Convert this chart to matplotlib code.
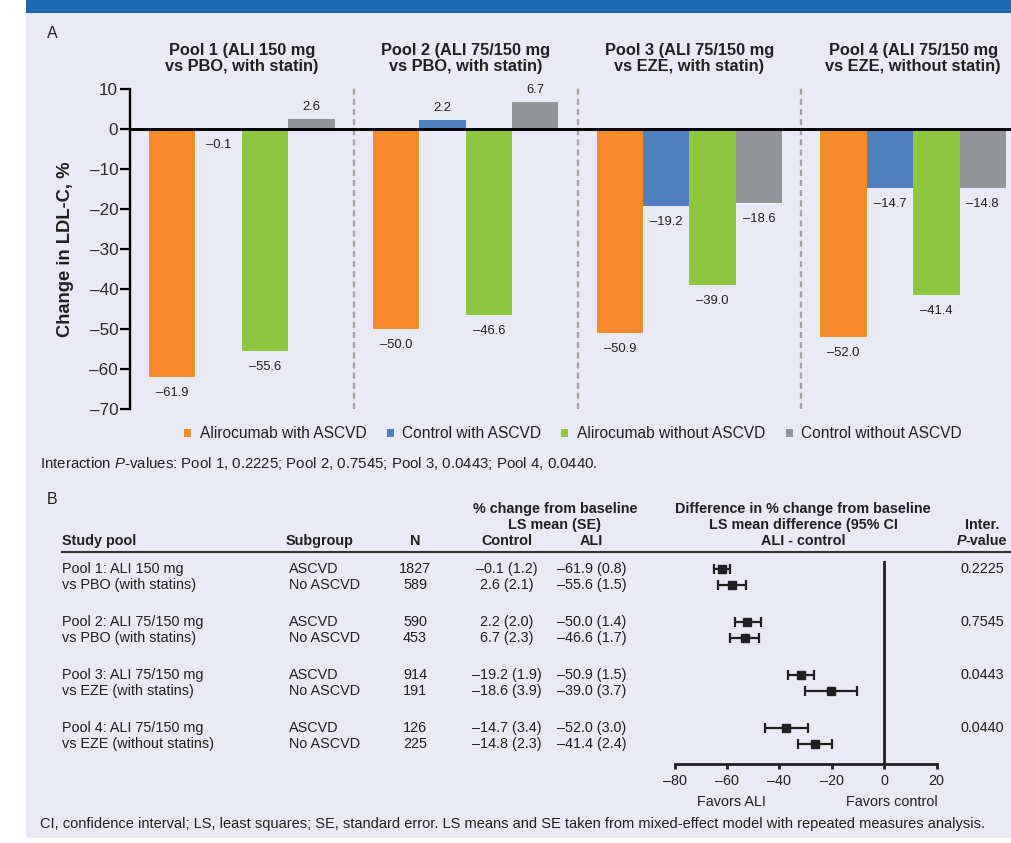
import numpy as np
import matplotlib
matplotlib.use("Agg")
import matplotlib.pyplot as plt
from matplotlib.patches import Rectangle, Patch
from matplotlib.lines import Line2D
from matplotlib.ticker import FuncFormatter

plt.rcParams['font.family'] = ['Liberation Sans', 'DejaVu Sans']
plt.rcParams['mathtext.fontset'] = 'custom'
plt.rcParams['mathtext.rm'] = 'Liberation Sans'
plt.rcParams['mathtext.it'] = 'Liberation Sans:italic'
plt.rcParams['lines.scale_dashes'] = False

# ---- panel A data: LS mean % change in LDL-C ----
pool_titles = ["Pool 1 (ALI 150 mg\nvs PBO, with statin)",
               "Pool 2 (ALI 75/150 mg\nvs PBO, with statin)",
               "Pool 3 (ALI 75/150 mg\nvs EZE, with statin)",
               "Pool 4 (ALI 75/150 mg\nvs EZE, without statin)"]
series_names = ["Alirocumab with ASCVD", "Control with ASCVD",
                "Alirocumab without ASCVD", "Control without ASCVD"]
ali_ascvd = [-61.9, -50.0, -50.9, -52.0]
ctl_ascvd = [-0.1, 2.2, -19.2, -14.7]
ali_no_ascvd = [-55.6, -46.6, -39.0, -41.4]
ctl_no_ascvd = [2.6, 6.7, -18.6, -14.8]
interaction_p = ["0.2225", "0.7545", "0.0443", "0.0440"]

# ---- panel B data ----
pool_line1 = ["Pool 1: ALI 150 mg", "Pool 2: ALI 75/150 mg",
              "Pool 3: ALI 75/150 mg", "Pool 4: ALI 75/150 mg"]
pool_line2 = ["vs PBO (with statins)", "vs PBO (with statins)",
              "vs EZE (with statins)", "vs EZE (without statins)"]
subgroups = ["ASCVD", "No ASCVD"]
n_ascvd = [1827, 590, 914, 126]
n_no_ascvd = [589, 453, 191, 225]
se_ctl_ascvd = [1.2, 2.0, 1.9, 3.4]
se_ctl_no = [2.1, 2.3, 3.9, 2.3]
se_ali_ascvd = [0.8, 1.4, 1.5, 3.0]
se_ali_no = [1.5, 1.7, 3.7, 2.4]
# LS mean difference (ALI - control) with 95% CI, row order: pool1 ASCVD, pool1 no ASCVD, ...
diff_est = [-61.8, -58.2, -52.2, -53.3, -31.7, -20.4, -37.3, -26.6]
diff_lo = [-64.8, -63.3, -56.9, -59.0, -36.6, -30.1, -45.6, -33.0]
diff_hi = [-58.8, -52.9, -47.2, -47.7, -26.8, -10.2, -29.0, -20.1]

ORANGE = "#F58A2C"
BLUE = "#4F80BF"
GREEN = "#8DC63F"
GREY = "#949598"
BG = "#E9EAF5"
BAND = "#1E68B2"
INK = "#231F20"

W, H = 1011, 843
fig = plt.figure(figsize=(W / 100, H / 100), dpi=100)
fig.patch.set_facecolor("white")


def box(x0, y0, x1, y1):
    # pixel box (top-left origin) -> figure fraction rect
    return [x0 / W, 1 - y1 / H, (x1 - x0) / W, (y1 - y0) / H]


def ftext(x, y, s, **kw):
    kw.setdefault("color", INK)
    return fig.text(x / W, 1 - y / H, s, **kw)


def dash(s):
    return s.replace("-", "\u2013")


fig.patches.append(Rectangle((26 / W, 1 - 838 / H), (W - 26) / W, 825 / H,
                             transform=fig.transFigure, fc=BG, ec="none", zorder=-10))
fig.patches.append(Rectangle((26 / W, 1 - 13 / H), (W - 26) / W, 13 / H,
                             transform=fig.transFigure, fc=BAND, ec="none", zorder=-10))

# ================= panel A =================
ax = fig.add_axes(box(130, 89, 1011, 409))
ax.set_facecolor("none")
x = np.arange(len(pool_titles))
w = 0.2073
series = [ali_ascvd, ctl_ascvd, ali_no_ascvd, ctl_no_ascvd]
colors = [ORANGE, BLUE, GREEN, GREY]
for k, (vals, c) in enumerate(zip(series, colors)):
    xs = x + (k - 1.5) * w
    ax.bar(xs, vals, width=w, color=c, zorder=2)
    for xi, v in zip(xs, vals):
        off = 8.5 if v >= 0 else -11.5
        ax.annotate(dash(f"{v:.1f}"), (xi, v), xytext=(0, off), textcoords="offset points",
                    ha="center", va="center", fontsize=9.4, color=INK)

ax.axhline(0, color="black", lw=2.1, zorder=3)
ax.vlines([0.5, 1.5, 2.5], -70, 10.5, colors="#A3A3A6", lw=1.7,
          linestyles=[(0, (4.3, 3.0))], clip_on=False, zorder=1)
ax.set_xlim(-0.5, 3.437)
ax.set_ylim(-70, 10)
ax.set_yticks(np.arange(-70, 11, 10))
ax.yaxis.set_major_formatter(FuncFormatter(lambda v, _: dash(f"{v:.0f}")))
ax.tick_params(axis="y", direction="out", length=7, width=1.6, pad=1.5,
               labelsize=12.3, colors="black", labelcolor="#2a2a2a")
ax.set_xticks([])
for s in ["top", "right", "bottom"]:
    ax.spines[s].set_visible(False)
ax.spines["left"].set_linewidth(1.7)

for i, t in enumerate(pool_titles):
    ax.text(i, 17.6, t, ha="center", va="center", fontsize=11.8, fontweight="bold",
            linespacing=1.05, color=INK, clip_on=False)

ftext(65, 249, "Change in LDL-C, %", rotation=90, ha="center", va="center",
      fontsize=13.2, fontweight="bold")
ftext(47, 33, "A", ha="left", va="center", fontsize=11.5)

handles = [Patch(facecolor=c, edgecolor="none") for c in colors]
fig.legend(handles, series_names, loc="center", bbox_to_anchor=(573 / W, 1 - 434 / H),
           ncol=4, frameon=False, fontsize=11.2, handlelength=0.45, handleheight=0.45,
           handletextpad=0.55, columnspacing=1.3, labelcolor=INK)

ftext(40, 463, "Interaction $P$-values: " + "; ".join(
    f"Pool {i + 1}, {p}" for i, p in enumerate(interaction_p)) + ".",
      ha="left", va="center", fontsize=10.8)

# ================= panel B =================
ftext(47, 499, "B", ha="left", va="center", fontsize=11.5)
FS = 10.4
hdr = dict(fontsize=FS, fontweight="bold", va="center")
ftext(62, 541, "Study pool", ha="left", **hdr)
ftext(286, 541, "Subgroup", ha="left", **hdr)
ftext(415, 541, "N", ha="center", **hdr)
ftext(555, 509.5, "% change from baseline", ha="center", **hdr)
ftext(555, 525, "LS mean (SE)", ha="center", **hdr)
ftext(507, 541, "Control", ha="center", **hdr)
ftext(591.5, 541, "ALI", ha="center", **hdr)
ftext(803, 509.5, "Difference in % change from baseline", ha="center", **hdr)
ftext(803, 525, "LS mean difference (95% CI", ha="center", **hdr)
ftext(803, 541, "ALI - control", ha="center", **hdr)
ftext(982, 525, "Inter.", ha="center", **hdr)
ftext(966, 541, "P", ha="right", fontstyle="italic", **hdr)
ftext(966, 541, "-value", ha="left", **hdr)
fig.add_artist(Line2D([62 / W, 1.0], [1 - 551.7 / H] * 2, transform=fig.transFigure,
                      color="#333333", lw=1.5))

row_top, pool_pitch, sub_pitch = 569.3, 53, 16
row_y = []
for p in range(4):
    y0 = row_top + p * pool_pitch
    y1 = y0 + sub_pitch
    row_y += [y0, y1]
    ftext(62, y0, pool_line1[p], ha="left", va="center", fontsize=FS)
    ftext(62, y1, pool_line2[p], ha="left", va="center", fontsize=FS)
    ftext(289, y0, subgroups[0], ha="left", va="center", fontsize=FS)
    ftext(289, y1, subgroups[1], ha="left", va="center", fontsize=FS)
    ftext(415, y0, str(n_ascvd[p]), ha="center", va="center", fontsize=FS)
    ftext(415, y1, str(n_no_ascvd[p]), ha="center", va="center", fontsize=FS)
    ftext(507, y0, dash(f"{ctl_ascvd[p]:.1f} ({se_ctl_ascvd[p]:.1f})"),
          ha="center", va="center", fontsize=FS)
    ftext(507, y1, dash(f"{ctl_no_ascvd[p]:.1f} ({se_ctl_no[p]:.1f})"),
          ha="center", va="center", fontsize=FS)
    ftext(591.5, y0, dash(f"{ali_ascvd[p]:.1f} ({se_ali_ascvd[p]:.1f})"),
          ha="center", va="center", fontsize=FS)
    ftext(591.5, y1, dash(f"{ali_no_ascvd[p]:.1f} ({se_ali_no[p]:.1f})"),
          ha="center", va="center", fontsize=FS)
    ftext(982, y0, interaction_p[p], ha="center", va="center", fontsize=FS)

# forest plot, y in pixel rows
fa = fig.add_axes(box(674.7, 561, 936.5, 764))
fa.set_facecolor("none")
est = np.array(diff_est)
lo = np.array(diff_lo)
hi = np.array(diff_hi)
fa.errorbar(est, row_y, xerr=[est - lo, hi - est], fmt="s", ms=5.2, color=INK,
            ecolor=INK, elinewidth=1.6, capsize=3.8, capthick=1.6, clip_on=False)
fa.axvline(0, color=INK, lw=2.0)
fa.set_xlim(-80, 20)
fa.set_ylim(764, 561)
fa.set_xticks([-80, -60, -40, -20, 0, 20])
fa.xaxis.set_major_formatter(FuncFormatter(lambda v, _: dash(f"{v:.0f}")))
fa.tick_params(axis="x", direction="out", length=3.5, width=2.0, pad=4,
               labelsize=FS, colors=INK)
fa.set_yticks([])
for s in ["top", "right", "left"]:
    fa.spines[s].set_visible(False)
fa.spines["bottom"].set_linewidth(2.0)
fa.spines["bottom"].set_color(INK)

ftext(731.7, 802, "Favors ALI", ha="center", va="center", fontsize=FS)
ftext(891.7, 802, "Favors control", ha="center", va="center", fontsize=FS)

ftext(40, 824, "CI, confidence interval; LS, least squares; SE, standard error. "
      "LS means and SE taken from mixed-effect model with repeated measures analysis.",
      ha="left", va="center", fontsize=10.55)

fig.savefig("out.png", dpi=100)
